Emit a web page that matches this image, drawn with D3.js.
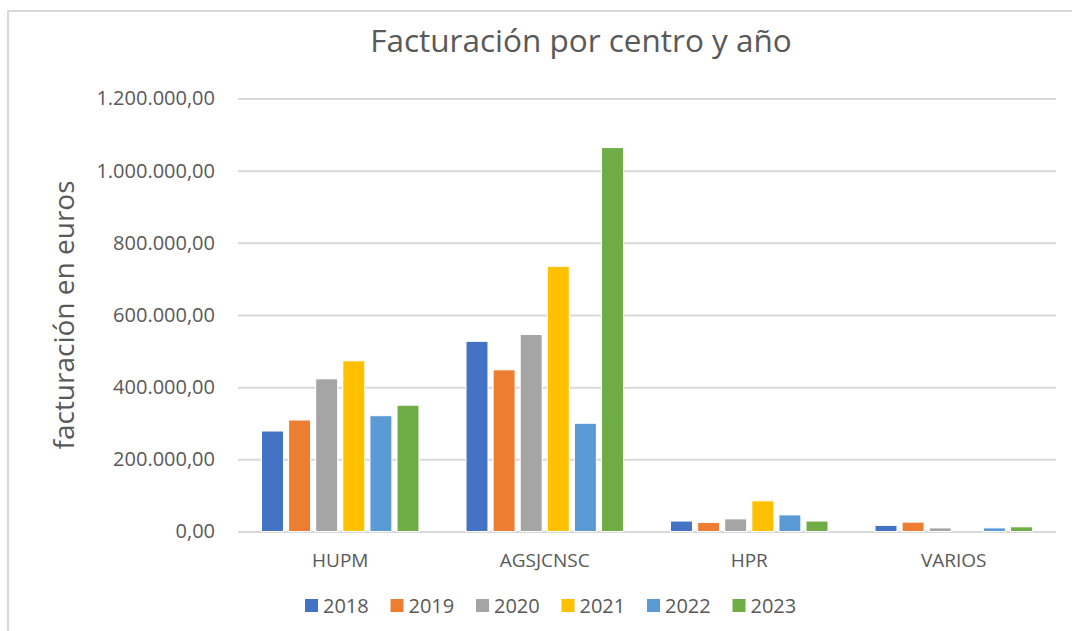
<!DOCTYPE html>
<html>
<head>
    <style>
        body { margin: 0; background: #fff; }
        svg text { font-family: "Open Sans", sans-serif; fill: #595959; }
        .grid line { stroke: #d9d9d9; stroke-width: 2; }
        .grid path { display: none; }
    </style>
    <script src="https://d3js.org/d3.v7.min.js"></script>
</head>
<body>
    <svg width="1072" height="631"></svg>
    <script>
        var centros = ["HUPM", "AGSJCNSC", "HPR", "VARIOS"];
        var anios = ["2018", "2019", "2020", "2021", "2022", "2023"];
        var colores = ["#4472c4", "#ed7d31", "#a5a5a5", "#ffc000", "#5b9bd5", "#70ad47"];
        // facturación por año, un valor por centro
        var v2018 = [278500, 527000, 29000, 17000];
        var v2019 = [309000, 448000, 25000, 26000];
        var v2020 = [423000, 546000, 35000, 10000];
        var v2021 = [473000, 735000, 85000, 0];
        var v2022 = [321000, 300000, 46000, 10000];
        var v2023 = [350000, 1064000, 29000, 13000];
        var yTicks = [0, 200000, 400000, 600000, 800000, 1000000, 1200000];

        var series = [v2018, v2019, v2020, v2021, v2022, v2023];
        var data = centros.map(function(c, i) {
            return { centro: c, valores: anios.map(function(a, j) { return { anio: a, valor: series[j][i] }; }) };
        });

        var svg = d3.select("svg");
        var mLeft = 238, mRight = 1056, mTop = 98.5, mBottom = 531.5;

        // marco del gráfico
        svg.append("rect").attr("x", 8).attr("y", 11).attr("width", 1080).attr("height", 640)
            .attr("fill", "none").attr("stroke", "#d9d9d9").attr("stroke-width", 2);

        var x0 = d3.scaleBand().domain(centros).range([mLeft, mRight]).paddingInner(0.23).paddingOuter(0.115);
        var x1 = d3.scaleBand().domain(anios).range([0, x0.bandwidth()]).paddingInner(0.19);
        var y = d3.scaleLinear().domain([0, 1200000]).range([mBottom, mTop]);
        var color = d3.scaleOrdinal().domain(anios).range(colores);

        var fmt = function(d) {
            return d3.format(",.2f")(d).replace(/,/g, "#").replace(".", ",").replace(/#/g, ".");
        };

        var yAxis = svg.append("g").attr("class", "grid")
            .attr("transform", "translate(" + mLeft + ",0)")
            .call(d3.axisLeft(y).tickValues(yTicks).tickSize(-(mRight - mLeft)).tickPadding(23).tickFormat(fmt));
        yAxis.selectAll("text").style("font-size", "20px");

        var grupos = svg.selectAll(".centro").data(data).enter().append("g")
            .attr("class", "centro")
            .attr("transform", function(d) { return "translate(" + x0(d.centro) + ",0)"; });

        grupos.selectAll("rect").data(function(d) { return d.valores; }).enter().append("rect")
            .attr("x", function(d) { return x1(d.anio); })
            .attr("y", function(d) { return y(d.valor); })
            .attr("width", x1.bandwidth())
            .attr("height", function(d) { return y(0) - y(d.valor); })
            .attr("fill", function(d) { return color(d.anio); })
            .attr("stroke", "#fff").attr("stroke-width", 1)
            .attr("display", function(d) { return d.valor > 0 ? null : "none"; });

        svg.selectAll(".xlab").data(centros).enter().append("text")
            .attr("class", "xlab")
            .attr("x", function(d) { return x0(d) + x0.bandwidth() / 2; })
            .attr("y", 567)
            .attr("text-anchor", "middle")
            .style("font-size", "19px")
            .text(function(d) { return d; });

        svg.append("text").attr("x", 581).attr("y", 52).attr("text-anchor", "middle")
            .style("font-size", "31.5px").text("Facturación por centro y año");

        svg.append("text").attr("transform", "translate(74,315) rotate(-90)")
            .attr("text-anchor", "middle").style("font-size", "28px").text("facturación en euros");

        // leyenda
        var leyenda = svg.selectAll(".leg").data(anios).enter().append("g")
            .attr("class", "leg")
            .attr("transform", function(d, i) { return "translate(" + (305 + i * 85.5) + ",599)"; });
        leyenda.append("rect").attr("width", 13).attr("height", 13).attr("fill", function(d) { return color(d); });
        leyenda.append("text").attr("x", 18).attr("y", 13.5).style("font-size", "20px").text(function(d) { return d; });
    </script>
</body>
</html>
